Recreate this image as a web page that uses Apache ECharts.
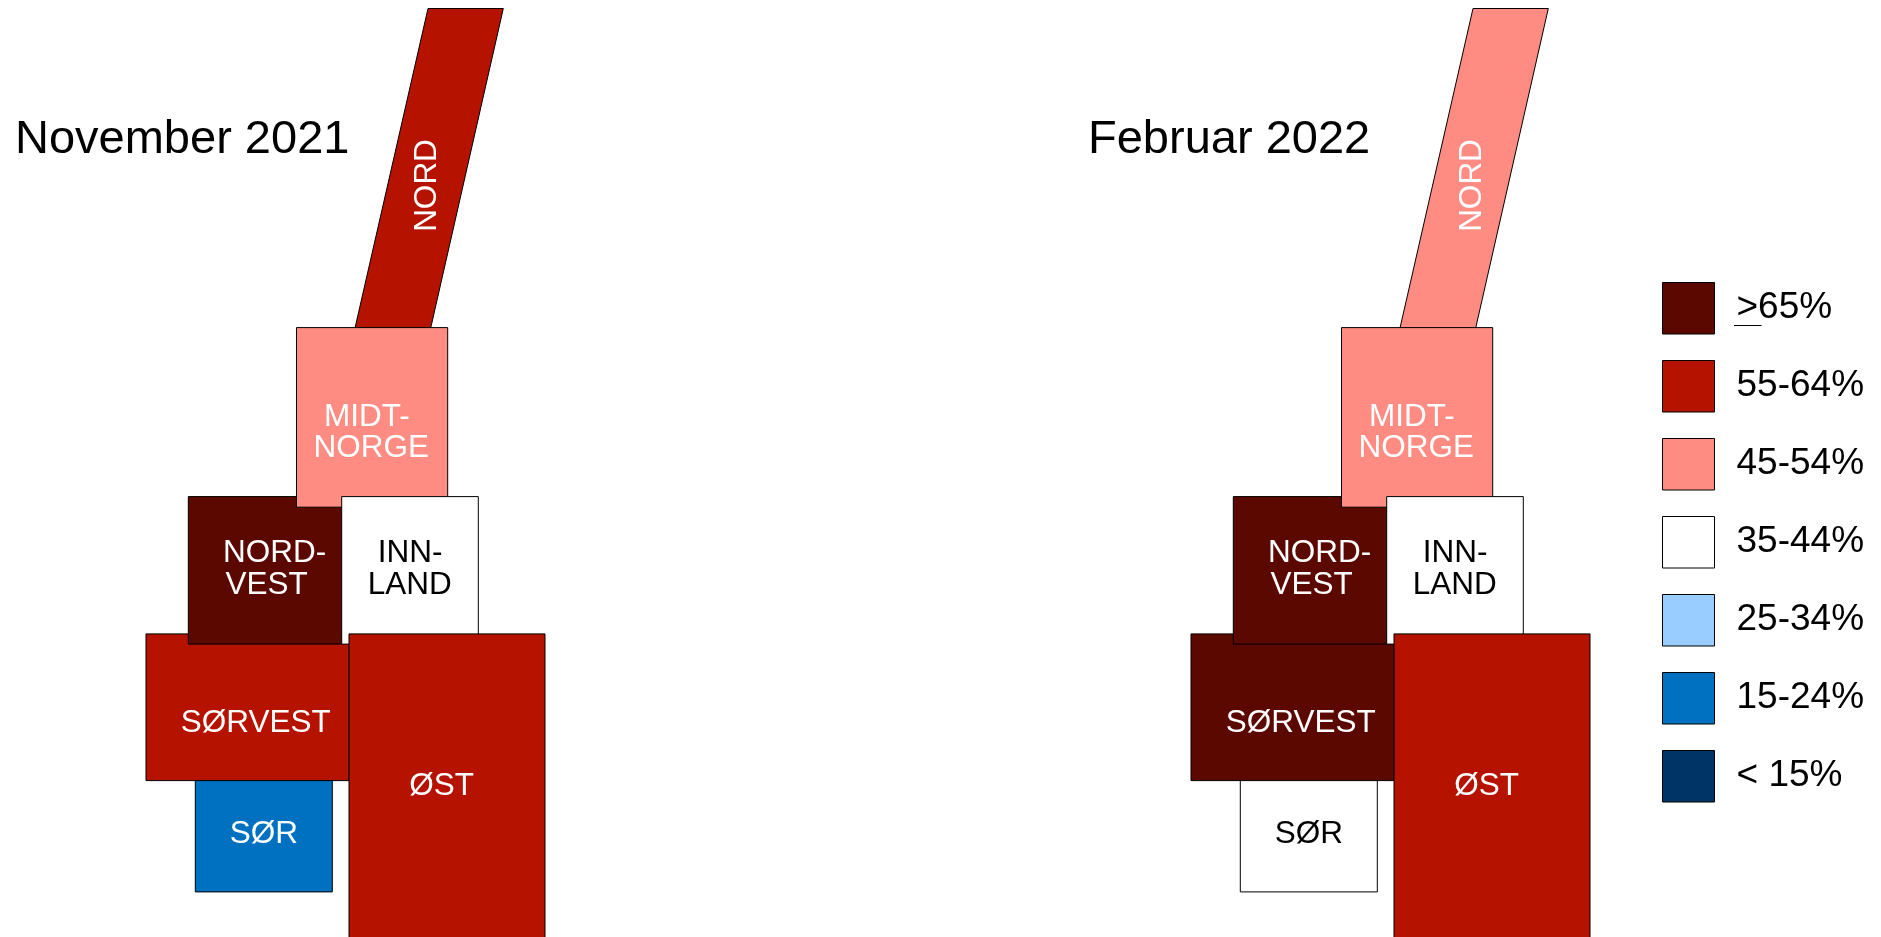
<!DOCTYPE html>
<html>
<head>
<meta charset="utf-8">
<style>html,body{margin:0;padding:0;background:#fff;overflow:hidden}#c{width:1881px;height:937px}</style>
<script src="https://cdn.jsdelivr.net/npm/echarts@6/dist/echarts.min.js"></script>
</head>
<body>
<div id="c"></div>
<script>
// ---- Data ----
const panelTitles = ['November 2021', 'Februar 2022'];
const classLabels = ['>65%', '55-64%', '45-54%', '35-44%', '25-34%', '15-24%', '< 15%'];
const classColors = ['#5a0800', '#b51200', '#ff8c82', '#ffffff', '#99ccff', '#0070c0', '#003366'];
// Regions in painting order (later regions overlap earlier ones)
const regions = ['NORD', 'SØRVEST', 'NORDVEST', 'MIDT-NORGE', 'INNLAND', 'SØR', 'ØST'];
// Class index (into classLabels) for each region
const classNov = [1, 1, 0, 2, 3, 5, 1];
const classFeb = [2, 0, 0, 2, 3, 3, 1];
// Cartogram outlines, in map units
const outlines = [
  [[282, 0.5], [357.3, 0.5], [284.7, 320], [209, 320]],
  [[0, 625.9], [203, 625.9], [203, 772.6], [0, 772.6]],
  [[42.3, 488.6], [195.7, 488.6], [195.7, 636.1], [42.3, 636.1]],
  [[150.5, 319.6], [301.7, 319.6], [301.7, 499.2], [150.5, 499.2]],
  [[195.7, 488.6], [332.3, 488.6], [332.3, 636.1], [195.7, 636.1]],
  [[49.3, 772.6], [186.3, 772.6], [186.3, 883.9], [49.3, 883.9]],
  [[203, 625.9], [399, 625.9], [399, 940], [203, 940]]
];
// Label lines per region: text, map x, map y, rotated
const labelLines = [
  [['NORD', 281.7, 177.5, true]],
  [['SØRVEST', 109.8, 715]],
  [['NORD-', 128.5, 545.5], ['VEST', 120.7, 577.7]],
  [['MIDT-', 220.8, 409], ['NORGE', 225.3, 440.7]],
  [['INN-', 264, 545.5], ['LAND', 263.7, 577.7]],
  [['SØR', 117.8, 826]],
  [['ØST', 295.7, 778]]
];
const mapWidth = 399, mapHeight = 929;

// ---- Chart ----
const FONT = '"Liberation Sans", Arial, Helvetica, sans-serif';
const chart = echarts.init(document.getElementById('c'), null, {renderer: 'canvas'});

function renderRegion(params, api) {
  const r = api.value(0), cls = api.value(1);
  const children = [{
    type: 'polygon',
    shape: {points: outlines[r].map(p => api.coord(p))},
    style: {fill: classColors[cls], stroke: '#000', lineWidth: 1}
  }];
  labelLines[r].forEach(l => {
    const p = api.coord([l[1], l[2]]);
    children.push({
      type: 'text', x: p[0], y: p[1], rotation: l[3] ? Math.PI / 2 : 0,
      style: {
        text: l[0], fill: cls === 3 ? '#000' : '#fff',
        font: '31.5px ' + FONT, align: 'center', verticalAlign: 'middle'
      }
    });
  });
  return {type: 'group', children};
}
function panelSeries(idx, classes) {
  return {
    type: 'custom', name: panelTitles[idx], xAxisIndex: idx, yAxisIndex: idx,
    coordinateSystem: 'cartesian2d', clip: false, silent: true,
    renderItem: renderRegion,
    encode: {x: 0, y: 1},
    data: classes.map((c, i) => [i, c])
  };
}
const panelLeft = [146, 1191];
chart.setOption({
  animation: false,
  backgroundColor: '#fff',
  title: panelTitles.map((t, i) => ({
    text: t, left: [15, 1088][i], top: 117, padding: 0,
    textStyle: {fontFamily: FONT, fontSize: 47, fontWeight: 'normal', color: '#000'}
  })),
  grid: panelLeft.map(l => ({left: l, top: 8, width: mapWidth, height: mapHeight, containLabel: false})),
  xAxis: panelLeft.map((l, i) => ({type: 'value', gridIndex: i, min: 0, max: mapWidth, show: false})),
  yAxis: panelLeft.map((l, i) => ({type: 'value', gridIndex: i, min: 0, max: mapHeight, inverse: true, show: false})),
  legend: {
    orient: 'vertical', left: 1662, top: 282, padding: 0,
    itemWidth: 52, itemHeight: 51.5, itemGap: 25.5, icon: 'rect', selectedMode: false,
    data: classLabels.map((n, i) => ({name: n, icon: 'rect',
      itemStyle: {color: classColors[i], borderColor: '#000', borderWidth: 1}})),
    textStyle: {fontFamily: FONT, fontSize: 37, color: '#000', padding: [0, 0, 4, 17]}
  },
  series: [panelSeries(0, classNov), panelSeries(1, classFeb)].concat(
    classLabels.map((n, i) => ({
      type: 'custom', name: n, xAxisIndex: 0, yAxisIndex: 0, silent: true,
      itemStyle: {color: classColors[i]}, renderItem: () => null, data: []
    }))
  ),
  graphic: [{
    type: 'line', silent: true,
    shape: {x1: 1734, y1: 325.5, x2: 1761.5, y2: 325.5},
    style: {stroke: '#000', lineWidth: 1}
  }]
});
</script>
</body>
</html>
